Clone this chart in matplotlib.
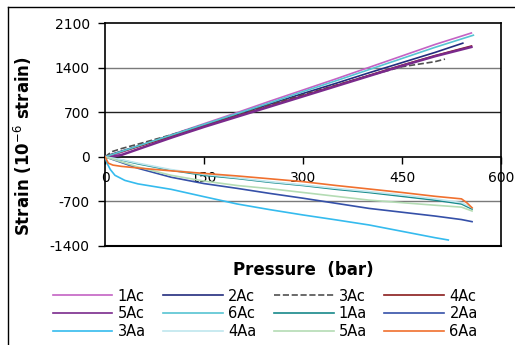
import matplotlib.pyplot as plt
from matplotlib.lines import Line2D

plt.rcParams['font.family'] = ['DejaVu Sans']
plt.rcParams['axes.unicode_minus'] = False

# compressive / tensile strain readings vs pressure
p_1Ac = [0, 10, 25, 50, 100, 150, 200, 250, 300, 350, 400, 450, 500, 555]
s_1Ac = [0, 15, 70, 165, 345, 520, 695, 875, 1050, 1225, 1405, 1585, 1765, 1945]
p_6Ac = [0, 10, 25, 50, 100, 150, 200, 250, 300, 350, 400, 450, 500, 558]
s_6Ac = [0, 35, 85, 170, 340, 510, 680, 850, 1025, 1195, 1370, 1545, 1720, 1910]
p_2Ac = [0, 10, 25, 50, 100, 150, 200, 250, 300, 350, 400, 450, 500, 542]
s_2Ac = [0, 40, 90, 170, 335, 500, 665, 830, 995, 1155, 1320, 1480, 1640, 1785]
p_4Ac = [0, 10, 25, 50, 100, 150, 200, 250, 300, 350, 400, 450, 500, 555]
s_4Ac = [0, 35, 80, 160, 320, 480, 640, 800, 960, 1120, 1280, 1440, 1590, 1740]
p_5Ac = [0, 10, 25, 50, 100, 150, 200, 250, 300, 350, 400, 450, 500, 555]
s_5Ac = [0, 0, 30, 120, 300, 470, 630, 790, 950, 1110, 1270, 1430, 1580, 1725]
p_3Ac = [0, 10, 25, 50, 100, 150, 200, 250, 300, 350, 400, 450, 500, 515]
s_3Ac = [0, 80, 130, 200, 345, 505, 665, 820, 975, 1125, 1275, 1415, 1495, 1535]

p_3Aa = [0, 3, 8, 15, 30, 50, 100, 150, 200, 250, 300, 350, 400, 450, 500, 520]
s_3Aa = [0, -100, -200, -290, -370, -425, -510, -626, -740, -830, -913, -990,
         -1070, -1170, -1270, -1306]
p_2Aa = [0, 25, 50, 100, 150, 200, 250, 300, 350, 400, 450, 500, 540, 556]
s_2Aa = [0, -90, -180, -320, -420, -495, -575, -650, -730, -810, -870, -930, -985, -1018]
p_5Aa = [0, 25, 50, 100, 150, 200, 250, 300, 350, 400, 450, 500, 540, 556]
s_5Aa = [0, -80, -160, -290, -380, -450, -500, -560, -620, -680, -720, -760, -790, -850]
p_1Aa = [0, 25, 50, 100, 150, 200, 250, 300, 350, 400, 450, 500, 540, 556]
s_1Aa = [0, -50, -110, -210, -290, -340, -400, -450, -510, -560, -620, -680, -740, -820]
p_4Aa = [0, 25, 50, 100, 150, 200, 250, 300, 350, 400, 450, 500, 540, 556]
s_4Aa = [0, -45, -100, -200, -275, -330, -390, -440, -495, -545, -600, -660, -720, -800]
p_6Aa = [0, 5, 12, 25, 50, 100, 150, 200, 250, 300, 350, 400, 450, 500, 540, 548, 556]
s_6Aa = [0, -100, -130, -150, -175, -220, -260, -300, -345, -390, -450, -505, -560,
         -620, -660, -720, -800]

x_ticks = [0, 150, 300, 450, 600]
y_ticks = [-1400, -700, 0, 700, 1400, 2100]

series = [
    ('1Ac', p_1Ac, s_1Ac, '#C462C4', '-', 1.2),
    ('2Ac', p_2Ac, s_2Ac, '#232C7E', '-', 1.2),
    ('3Ac', p_3Ac, s_3Ac, '#505050', '--', 1.2),
    ('4Ac', p_4Ac, s_4Ac, '#8A1C1C', '-', 1.2),
    ('5Ac', p_5Ac, s_5Ac, '#7A2A8C', '-', 1.8),
    ('6Ac', p_6Ac, s_6Ac, '#56C4D2', '-', 1.2),
    ('1Aa', p_1Aa, s_1Aa, '#16898A', '-', 1.2),
    ('2Aa', p_2Aa, s_2Aa, '#3550A8', '-', 1.2),
    ('3Aa', p_3Aa, s_3Aa, '#35BBEE', '-', 1.2),
    ('4Aa', p_4Aa, s_4Aa, '#BFE6EE', '-', 1.2),
    ('5Aa', p_5Aa, s_5Aa, '#B4DCB4', '-', 1.2),
    ('6Aa', p_6Aa, s_6Aa, '#F0702E', '-', 1.2),
]

fig = plt.figure(figsize=(5.15, 3.45), dpi=100)
ax = fig.add_axes([0.204, 0.287, 0.769, 0.646])

ax.axhline(1400, color='#7a7a7a', lw=1, zorder=1)
ax.axhline(700, color='#222222', lw=1, zorder=1)
ax.axhline(-700, color='#7a7a7a', lw=1, zorder=1)

handles = {}
for name, p, s, c, ls, w in series:
    ax.plot(p, s, color=c, ls=ls, lw=w, zorder=3)
    handles[name] = Line2D([], [], color=c, ls=ls, lw=1.2)

ax.set_xlim(0, 600)
ax.set_ylim(-1400, 2100)
ax.set_xticks(x_ticks)
ax.set_yticks(y_ticks)
ax.spines['bottom'].set_position(('data', 0))
for sp in ax.spines.values():
    sp.set_linewidth(1.2)
    sp.set_color('black')
ax.axhline(-1400, color='black', lw=1.5, clip_on=False, zorder=4)
ax.tick_params(axis='both', direction='out', length=5, width=1, labelsize=10,
               colors='black')
ax.tick_params(axis='x', pad=5)
ax.tick_params(axis='y', pad=6)

ax.set_ylabel('Strain (10$^{-6}$ strain)', fontsize=12, fontweight='bold')
ax.yaxis.set_label_coords(-0.18, 0.45)
ax.text(0.5, -0.108, 'Pressure  (bar)', transform=ax.transAxes, ha='center',
        va='center', fontsize=12, fontweight='bold')

order = ['1Ac', '5Ac', '3Aa', '2Ac', '6Ac', '4Aa', '3Ac', '1Aa', '5Aa', '4Ac', '2Aa', '6Aa']
fig.legend([handles[n] for n in order], order, ncol=4, loc='center',
           bbox_to_anchor=(0.515, 0.09), frameon=False, fontsize=10.5,
           handlelength=4.1, handletextpad=0.35, columnspacing=1.2,
           labelspacing=0.2)

# outer chart border
fig.add_artist(Line2D([8 / 515, 8 / 515], [0, 1 - 7 / 345], color='black', lw=1))
fig.add_artist(Line2D([8 / 515, 1], [1 - 7 / 345, 1 - 7 / 345], color='black', lw=1))

fig.savefig('out.png', dpi=100)
